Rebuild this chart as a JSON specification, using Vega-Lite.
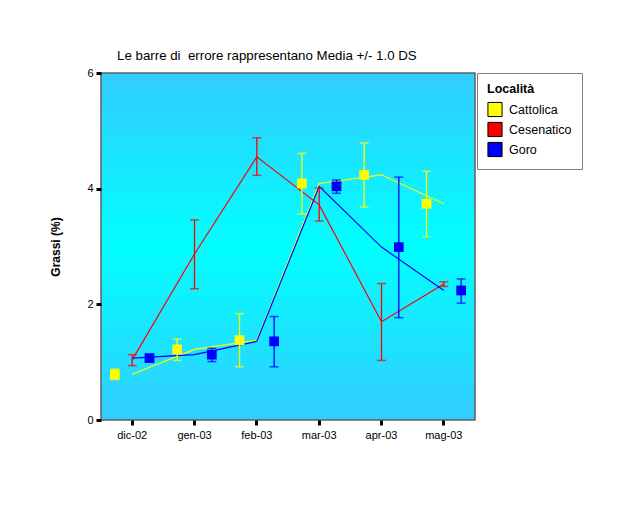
{
  "$schema": "https://vega.github.io/schema/vega-lite/v6.json",
  "width": 374,
  "height": 347,
  "autosize": {"type": "none"},
  "padding": {"left": 101, "top": 73, "right": 165, "bottom": 92},
  "background": "white",
  "title": {
    "text": "Le barre di\u00a0 errore rappresentano Media +/- 1.0 DS",
    "anchor": "start",
    "frame": "group",
    "dx": 16,
    "offset": 5,
    "fontSize": 13.3,
    "fontWeight": "normal",
    "color": "black"
  },
  "data": {
    "values": [
      {"mese": "dic-02", "serie": "Cattolica", "media": 0.79, "lo": 0.70, "hi": 0.88},
      {"mese": "gen-03", "serie": "Cattolica", "media": 1.22, "lo": 1.03, "hi": 1.40},
      {"mese": "feb-03", "serie": "Cattolica", "media": 1.38, "lo": 0.92, "hi": 1.84},
      {"mese": "mar-03", "serie": "Cattolica", "media": 4.09, "lo": 3.56, "hi": 4.61},
      {"mese": "apr-03", "serie": "Cattolica", "media": 4.24, "lo": 3.68, "hi": 4.79},
      {"mese": "mag-03", "serie": "Cattolica", "media": 3.74, "lo": 3.17, "hi": 4.30},
      {"mese": "dic-02", "serie": "Cesenatico", "media": 1.04, "lo": 0.94, "hi": 1.13},
      {"mese": "gen-03", "serie": "Cesenatico", "media": 2.87, "lo": 2.27, "hi": 3.46},
      {"mese": "feb-03", "serie": "Cesenatico", "media": 4.55, "lo": 4.23, "hi": 4.88},
      {"mese": "mar-03", "serie": "Cesenatico", "media": 3.72, "lo": 3.44, "hi": 4.01},
      {"mese": "apr-03", "serie": "Cesenatico", "media": 1.70, "lo": 1.03, "hi": 2.36},
      {"mese": "mag-03", "serie": "Cesenatico", "media": 2.35, "lo": 2.31, "hi": 2.39},
      {"mese": "dic-02", "serie": "Goro", "media": 1.07, "lo": 1.03, "hi": 1.11},
      {"mese": "gen-03", "serie": "Goro", "media": 1.13, "lo": 1.01, "hi": 1.24},
      {"mese": "feb-03", "serie": "Goro", "media": 1.36, "lo": 0.92, "hi": 1.79},
      {"mese": "mar-03", "serie": "Goro", "media": 4.04, "lo": 3.92, "hi": 4.15},
      {"mese": "apr-03", "serie": "Goro", "media": 2.99, "lo": 1.77, "hi": 4.20},
      {"mese": "mag-03", "serie": "Goro", "media": 2.24, "lo": 2.02, "hi": 2.44}
    ]
  },
  "encoding": {
    "x": {
      "field": "mese",
      "type": "nominal",
      "sort": ["dic-02", "gen-03", "feb-03", "mar-03", "apr-03", "mag-03"],
      "scale": {"paddingInner": 0, "paddingOuter": 0},
      "axis": {"title": null, "labelAngle": 0}
    }
  },
  "layer": [
    {
      "mark": {"type": "line", "strokeWidth": 1.2},
      "encoding": {
        "y": {"field": "media", "type": "quantitative", "title": "Grassi (%)", "scale": {"domain": [0, 6]}, "axis": {"values": [0, 2, 4, 6], "format": "d"}},
        "stroke": {"field": "serie", "type": "nominal", "scale": {"range": ["#FFFF00", "#FF0000", "#0000FF"]}, "legend": null}
      }
    },
    {
      "mark": {"type": "rule", "strokeWidth": 1.3},
      "encoding": {
        "xOffset": {"field": "serie", "type": "nominal", "scale": {"type": "point", "padding": 0.8, "domain": ["Cattolica", "Cesenatico", "Goro"]}},
        "y": {"field": "lo", "type": "quantitative", "title": "Grassi (%)"},
        "y2": {"field": "hi"},
        "stroke": {"field": "serie", "type": "nominal", "legend": null}
      }
    },
    {
      "mark": {"type": "tick", "orient": "horizontal", "size": 9, "thickness": 1.5},
      "encoding": {
        "xOffset": {"field": "serie", "type": "nominal"},
        "y": {"field": "hi", "type": "quantitative", "title": "Grassi (%)"},
        "color": {"field": "serie", "type": "nominal", "scale": {"range": ["#FFFF00", "#FF0000", "#0000FF"]}, "legend": null}
      }
    },
    {
      "mark": {"type": "tick", "orient": "horizontal", "size": 9, "thickness": 1.5},
      "encoding": {
        "xOffset": {"field": "serie", "type": "nominal"},
        "y": {"field": "lo", "type": "quantitative", "title": "Grassi (%)"},
        "color": {"field": "serie", "type": "nominal", "legend": null}
      }
    },
    {
      "transform": [{"filter": "datum.serie != 'Cesenatico'"}],
      "mark": {"type": "point", "shape": "square", "filled": true, "size": 95, "opacity": 1},
      "encoding": {
        "xOffset": {"field": "serie", "type": "nominal"},
        "y": {"field": "media", "type": "quantitative", "title": "Grassi (%)"},
        "fill": {
          "field": "serie",
          "type": "nominal",
          "scale": {"domain": ["Cattolica", "Cesenatico", "Goro"], "range": ["#FFFF00", "#FF0000", "#0000FF"]},
          "legend": {"title": "Località", "symbolType": "square"}
        }
      }
    }
  ],
  "config": {
    "font": "Liberation Sans",
    "view": {
      "stroke": "#606060",
      "strokeWidth": 1.5,
      "fill": {
        "gradient": "linear",
        "x1": 0, "y1": 0, "x2": 0, "y2": 1,
        "stops": [
          {"offset": 0, "color": "#33CCFF"},
          {"offset": 0.5, "color": "#00FFFF"},
          {"offset": 1, "color": "#33CCFF"}
        ]
      }
    },
    "axis": {
      "domain": false,
      "grid": false,
      "tickColor": "black",
      "tickWidth": 3,
      "tickSize": 5,
      "labelFontSize": 11,
      "labelColor": "black",
      "titleColor": "black"
    },
    "axisX": {"labelPadding": 4},
    "axisY": {"labelPadding": 3, "titleFontSize": 12, "titleFontWeight": "bold", "titlePadding": 24},
    "legend": {
      "strokeColor": "#808080",
      "padding": 10,
      "offset": 2,
      "titleFontSize": 12.5,
      "titleFontWeight": "bold",
      "titleColor": "black",
      "labelFontSize": 12.5,
      "labelColor": "black",
      "symbolSize": 200,
      "symbolStrokeColor": "black",
      "symbolStrokeWidth": 1,
      "rowPadding": 0,
      "labelOffset": 6,
      "titlePadding": 6
    }
  }
}
